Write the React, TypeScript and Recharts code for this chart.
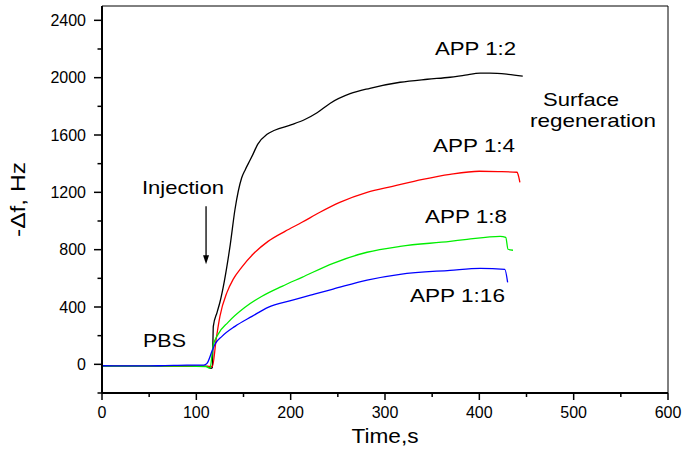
import React from "react";
import { LineChart, Line, XAxis, YAxis, ReferenceDot, ReferenceArea } from "recharts";

const FONT = "'Liberation Sans', Arial, Helvetica, sans-serif";

// time (s), -Δf (Hz)
const app12: [number, number][] = [
  [0, -10], [30, -12], [60, -13], [90, -12], [112, -14], [115.5, -28], [117, -22],
  [118, 265], [122, 363], [125, 433], [136, 837], [141, 1082], [148, 1300], [152, 1360],
  [157, 1425], [160, 1465], [165, 1535], [175, 1605], [183, 1633], [201, 1672], [215, 1708],
  [228, 1755], [242, 1822], [263, 1888], [284, 1926], [316, 1968], [345, 1989], [369, 2003],
  [385, 2018], [401, 2031], [411, 2031], [429, 2024], [446, 2010],
];

const app14: [number, number][] = [
  [0, -12], [30, -13], [60, -14], [90, -13], [113, -14], [117, -15], [121, 174], [125, 335],
  [132.5, 502], [139, 593], [148, 677], [160, 768], [176, 858], [194, 928], [212, 991],
  [231, 1061], [252, 1130], [281, 1200], [308, 1242], [340, 1291], [369, 1326], [400, 1347],
  [420, 1345], [440, 1340], [441, 1326], [443, 1270],
];

const app18: [number, number][] = [
  [0, -12], [30, -13], [60, -12], [90, -12], [110, -15], [114.5, -28], [117.7, 126], [123, 209],
  [133.6, 293], [151.6, 398], [169.6, 475], [190.8, 544], [212, 607], [245, 705], [281, 782],
  [316, 823], [369, 858], [387, 872], [422, 893], [428, 886], [430.4, 803], [435.7, 796],
];

const app116: [number, number][] = [
  [0, -10], [30, -11], [60, -10], [90, -6], [108, -5], [111.3, 7], [116.6, 91], [119.8, 140],
  [127.2, 195], [141, 265], [159, 335], [176, 398], [200, 445], [225, 490], [245, 525],
  [281, 588], [316, 628], [369, 656], [401, 670], [427, 663], [430, 572],
];

const xTicks = [0, 50, 100, 150, 200, 250, 300, 350, 400, 450, 500, 550, 600];
const yTicks = [-200, 0, 200, 400, 600, 800, 1000, 1200, 1400, 1600, 1800, 2000, 2200, 2400];

const series = [
  { name: "APP 1:2", rows: app12, color: "#000000" },
  { name: "APP 1:4", rows: app14, color: "#ff0000" },
  { name: "APP 1:8", rows: app18, color: "#00ee00" },
  { name: "APP 1:16", rows: app116, color: "#0000ff" },
];

// text annotations anchored in data space (left edge, baseline)
const notes = [
  { text: "APP 1:2", t: 353, v: 2156, w: 81 },
  { text: "Surface", t: 467.5, v: 1800, w: 76 },
  { text: "regeneration", t: 453.7, v: 1654, w: 126 },
  { text: "APP 1:4", t: 351, v: 1479, w: 82 },
  { text: "APP 1:8", t: 342.4, v: 984, w: 82 },
  { text: "APP 1:16", t: 326.5, v: 433, w: 95 },
  { text: "Injection", t: 42.4, v: 1186, w: 82 },
  { text: "PBS", t: 43.5, v: 119, w: 43 },
];

const toPoints = (rows: [number, number][]) => rows.map(([t, v]) => ({ t, v }));

function XTick({ x, y, payload }: any) {
  const major = payload.value % 100 === 0;
  return (
    <g>
      <line x1={x} x2={x} y1={y} y2={y + (major ? 7 : 4)} stroke="#000" strokeWidth={1.5} />
      {major && (
        <text x={x} y={y + 25} textAnchor="middle" fontSize={16} fontFamily={FONT} fill="#000">
          {payload.value}
        </text>
      )}
    </g>
  );
}

function YTick({ x, y, payload }: any) {
  const major = payload.value % 400 === 0 && payload.value >= 0;
  return (
    <g>
      <line x1={x - (major ? 8 : 4.5)} x2={x} y1={y} y2={y} stroke="#000" strokeWidth={1.5} />
      {major && (
        <text x={x - 16} y={y + 5.5} textAnchor="end" fontSize={16} fontFamily={FONT} fill="#000">
          {payload.value}
        </text>
      )}
    </g>
  );
}

export default function App() {
  return (
    <div style={{ position: "absolute", left: 0, top: 0, width: 688, height: 458, background: "#fff" }}>
      <LineChart width={688} height={458} margin={{ top: 6, right: 20, bottom: 0, left: 0 }}>
        <XAxis
          type="number"
          dataKey="t"
          domain={[0, 600]}
          ticks={xTicks}
          interval={0}
          height={65}
          tickSize={0}
          tickMargin={0}
          tickLine={false}
          tick={<XTick />}
          axisLine={{ stroke: "#000", strokeWidth: 2 }}
          allowDataOverflow
          label={(p: any) => (
            <text
              x={p.viewBox.x + p.viewBox.width / 2}
              y={p.viewBox.y + 50}
              textAnchor="middle"
              fontSize={20}
              fontFamily={FONT}
              fill="#000"
              textLength={67}
              lengthAdjust="spacingAndGlyphs"
            >
              Time,s
            </text>
          )}
        />
        <YAxis
          type="number"
          dataKey="v"
          domain={[-200, 2500]}
          ticks={yTicks}
          interval={0}
          width={102}
          tickSize={0}
          tickMargin={0}
          tickLine={false}
          tick={<YTick />}
          axisLine={{ stroke: "#000", strokeWidth: 2 }}
          allowDataOverflow
          label={(p: any) => (
            <text
              transform={`translate(25, ${p.viewBox.y + p.viewBox.height / 2}) rotate(-90)`}
              textAnchor="middle"
              fontSize={20}
              fontFamily={FONT}
              fill="#000"
              textLength={75}
              lengthAdjust="spacingAndGlyphs"
            >
              -Δf, Hz
            </text>
          )}
        />
        <ReferenceArea x1={0} x2={600} y1={-200} y2={2500} fill="none" stroke="#000" strokeWidth={1} />
        {series.map((s) => (
          <Line
            key={s.name}
            data={toPoints(s.rows)}
            dataKey="v"
            type="monotone"
            stroke={s.color}
            strokeWidth={1.3}
            dot={false}
            activeDot={false}
            isAnimationActive={false}
          />
        ))}
        {notes.map((n) => (
          <ReferenceDot
            key={n.text}
            x={n.t}
            y={n.v}
            r={0}
            ifOverflow="visible"
            shape={(p: any) => (
              <text
                x={p.cx}
                y={p.cy}
                fontSize={19}
                fontFamily={FONT}
                fill="#000"
                textLength={n.w}
                lengthAdjust="spacingAndGlyphs"
              >
                {n.text}
              </text>
            )}
          />
        ))}
        <ReferenceDot
          x={110.3}
          y={698}
          r={0}
          ifOverflow="visible"
          shape={(p: any) => (
            <g>
              <line x1={p.cx} x2={p.cx} y1={p.cy - 58} y2={p.cy - 7} stroke="#000" strokeWidth={1.3} />
              <polygon
                points={`${p.cx - 3},${p.cy - 9} ${p.cx + 3},${p.cy - 9} ${p.cx},${p.cy}`}
                fill="#000"
              />
            </g>
          )}
        />
      </LineChart>
    </div>
  );
}
